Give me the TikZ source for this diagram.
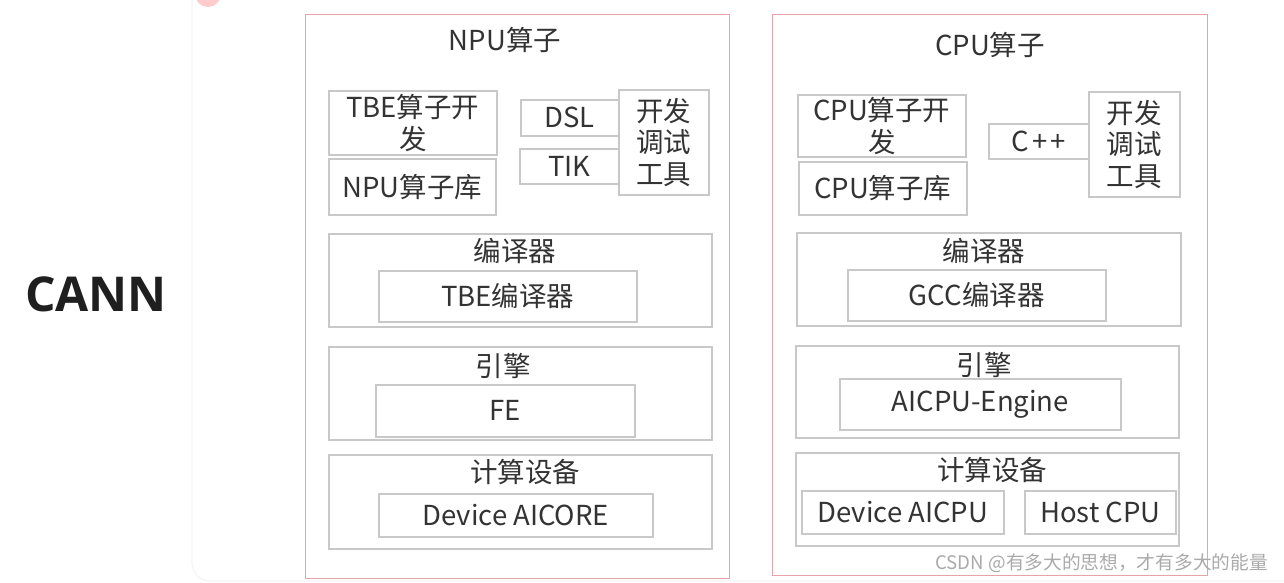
\documentclass[tikz,border=0pt]{standalone}
\usepackage{fontspec}
\setmainfont{Noto Sans CJK SC}
\newfontfamily\cannfont{Open Sans}
\definecolor{txtc}{HTML}{333333}
\definecolor{boxc}{HTML}{C8C8C8}
\definecolor{redc}{HTML}{E8A2AA}
\definecolor{wmc}{HTML}{AAAAAA}
\tikzset{
  gbox/.style={draw=boxc, line width=1.6pt, inner sep=0pt, text=txtc, align=center,
     font=\fontsize{27.5}{31.5}\selectfont},
  rbox/.style={draw=redc, line width=1.3pt, inner sep=0pt},
  ttl/.style={text=txtc, inner sep=0pt, font=\fontsize{27.5}{31.5}\selectfont},
}
\newcommand\mybox[7][gbox]{\node[#1, minimum width={(#5-#3)*1pt}, minimum height={(#6-#4)*1pt}, anchor=north west] (#2) at (#3,#4) {#7};}
\begin{document}
\begin{tikzpicture}[x=1pt,y=-1pt]
\useasboundingbox (0,0) rectangle (1284,582);
\fill[white] (0,0) rectangle (1284,582);
% faint card behind
\draw[black!4, line width=1.2pt, rounded corners=18pt] (192,-10) -- (192,581) -- (1300,581);
\fill[red!45, opacity=0.45] (208,-6) circle (13);
% CANN
\node[font=\cannfont\bfseries\fontsize{48}{50}\selectfont, text=black!88, inner sep=0pt] (cann) at (96,294) {CANN};
% ---- NPU side
\mybox[rbox]{npu}{305}{14}{729}{578}{}
\node[ttl] (npuT) at (505,40) {NPU算子};
\mybox{tbe}{328}{90}{496}{154}{TBE算子开\\发}
\mybox{npulib}{328}{158}{495}{214}{NPU算子库}
\mybox{dsl}{520}{99}{618}{135}{DSL}
\mybox{tik}{519}{148}{618}{183}{TIK}
\mybox{tool1}{618}{89}{708}{194}{开发\\调试\\工具}
\mybox{comp1}{328}{233}{711}{326}{}
\node[ttl] (comp1T) at (515,251) {编译器};
\mybox{tbec}{378}{270}{636}{321}{TBE编译器}
\mybox{eng1}{328}{346}{711}{439}{}
\node[ttl] (eng1T) at (503,366) {引擎};
\mybox{fe}{375}{384}{634}{436}{FE}
\mybox{dev1}{328}{454}{711}{548}{}
\node[ttl] (dev1T) at (525,472) {计算设备};
\mybox{aicore}{378}{493}{652}{536}{Device AICORE}
% ---- CPU side
\mybox[rbox]{cpu}{772}{14}{1207}{575}{}
\node[ttl] (cpuT) at (990,45) {CPU算子};
\mybox{cpudev}{797}{94}{965}{156}{CPU算子开\\发}
\mybox{cpulib}{798}{161}{966}{214}{CPU算子库}
\mybox{cpp}{988}{123}{1088}{158}{C\hspace{3pt}+\hspace{3pt}+}
\mybox{tool2}{1088}{91}{1179}{196}{开发\\调试\\工具}
\mybox{comp2}{796}{232}{1180}{325}{}
\node[ttl] (comp2T) at (984,251) {编译器};
\mybox{gcc}{847}{269}{1105}{320}{GCC编译器}
\mybox{eng2}{795}{345}{1178}{437}{}
\node[ttl] (eng2T) at (984,365) {引擎};
\mybox{aicpue}{839}{378}{1120}{429}{AICPU-Engine}
\mybox{dev2}{795}{452}{1178}{545}{}
\node[ttl] (dev2T) at (992,470) {计算设备};
\mybox{aicpu}{801}{490}{1003}{533}{Device AICPU}
\mybox{host}{1024}{490}{1175}{533}{Host CPU}
% watermark
\node[text=wmc, font=\fontsize{18.7}{20}\selectfont, inner sep=0pt, anchor=east] (wm) at (1268,563) {CSDN @有多大的思想，才有多大的能量};
\end{tikzpicture}
\end{document}
